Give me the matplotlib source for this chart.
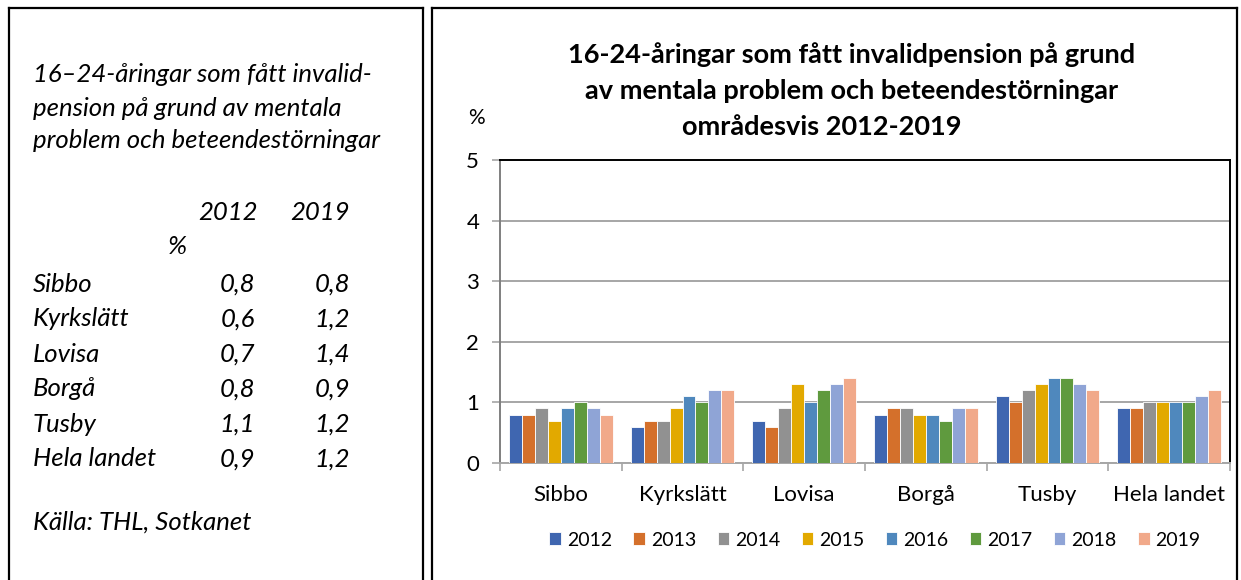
import matplotlib
matplotlib.use("Agg")
import matplotlib.pyplot as plt
from matplotlib.lines import Line2D
import numpy as np

categories = ["Sibbo", "Kyrkslätt", "Lovisa", "Borgå", "Tusby", "Hela landet"]
years = ["2012", "2013", "2014", "2015", "2016", "2017", "2018", "2019"]
v2012 = [0.8, 0.6, 0.7, 0.8, 1.1, 0.9]
v2013 = [0.8, 0.7, 0.6, 0.9, 1.0, 0.9]
v2014 = [0.9, 0.7, 0.9, 0.9, 1.2, 1.0]
v2015 = [0.7, 0.9, 1.3, 0.8, 1.3, 1.0]
v2016 = [0.9, 1.1, 1.0, 0.8, 1.4, 1.0]
v2017 = [1.0, 1.0, 1.2, 0.7, 1.4, 1.0]
v2018 = [0.9, 1.2, 1.3, 0.9, 1.3, 1.1]
v2019 = [0.8, 1.2, 1.4, 0.9, 1.2, 1.2]
series = [v2012, v2013, v2014, v2015, v2016, v2017, v2018, v2019]
colors = ["#3F66B0", "#D4702B", "#919191", "#E2A900", "#4F88BD", "#5F9A3E", "#8FA4D6", "#F1A98A"]

table_rows = ["Sibbo", "Kyrkslätt", "Lovisa", "Borgå", "Tusby", "Hela landet"]
table_2012 = ["0,8", "0,6", "0,7", "0,8", "1,1", "0,9"]
table_2019 = ["0,8", "1,2", "1,4", "0,9", "1,2", "1,2"]

W, H = 1241, 580
fig = plt.figure(figsize=(W / 100, H / 100), dpi=100)
fig.patch.set_facecolor("white")
FONT = "Lato"

def fx(px):
    return px / W

def fy(py):
    return 1 - py / H

# frames
lw = 1.6
for xs, ys in [((9, 9), (8, 580)), ((9, 423), (8, 8)), ((423, 423), (8, 580)),
               ((432, 432), (8, 580)), ((432, 1237), (8, 8)), ((1237, 1237), (8, 580))]:
    fig.add_artist(Line2D([fx(xs[0]), fx(xs[1])], [fy(ys[0]), fy(ys[1])],
                          transform=fig.transFigure, color="black", lw=lw))

# left text panel
tfs = 18.5
for i, line in enumerate(["16–24-åringar som fått invalid-", "pension på grund av mentala",
                          "problem och beteendestörningar"]):
    fig.text(fx(33), fy(75 + i * 33), line, fontsize=tfs, style="italic",
             family=FONT, va="center", ha="left")
fig.text(fx(258), fy(213), "2012", fontsize=tfs, style="italic", family=FONT, va="center", ha="right")
fig.text(fx(350), fy(213), "2019", fontsize=tfs, style="italic", family=FONT, va="center", ha="right")
fig.text(fx(187), fy(247), "%", fontsize=tfs, style="italic", family=FONT, va="center", ha="right")
for i, (r, a, b) in enumerate(zip(table_rows, table_2012, table_2019)):
    y = fy(284 + i * 35)
    fig.text(fx(33), y, r, fontsize=tfs, style="italic", family=FONT, va="center", ha="left")
    fig.text(fx(255), y, a, fontsize=tfs, style="italic", family=FONT, va="center", ha="right")
    fig.text(fx(350), y, b, fontsize=tfs, style="italic", family=FONT, va="center", ha="right")
fig.text(fx(33), fy(522), "Källa: THL, Sotkanet", fontsize=tfs, style="italic",
         family=FONT, va="center", ha="left")

# chart
ax = fig.add_axes([fx(500), 1 - 463 / H, (1230 - 500) / W, (463 - 160) / H])
n = len(series)
group = 0.85
bw = group / n
x = np.arange(len(categories))
for i, (vals, c, yr) in enumerate(zip(series, colors, years)):
    ax.bar(x - group / 2 + bw * (i + 0.5), vals, width=bw, color=c, label=yr,
           edgecolor="white", linewidth=0.6, zorder=3)

ax.set_xlim(-0.5, len(categories) - 0.5)
ax.set_ylim(0, 5)
ax.set_yticks(range(0, 6))
ax.yaxis.grid(True, color="#A6A6A6", lw=1.4, zorder=0)
ax.set_xticks(x)
ax.set_xticklabels(categories, fontsize=16, family=FONT)
ax.set_xticks(np.arange(-0.5, len(categories)), minor=True)
ax.tick_params(axis="x", which="major", length=0, pad=16)
ax.tick_params(axis="x", which="minor", length=6, color="#A6A6A6", width=1.2)
ax.tick_params(axis="y", length=6, color="#A6A6A6", width=1.2, labelsize=16, pad=9)
for lab in ax.get_yticklabels():
    lab.set_family(FONT)
ax.spines["left"].set_color("#7F7F7F")
ax.spines["left"].set_linewidth(1.4)
ax.spines["bottom"].set_color("#A6A6A6")
ax.spines["bottom"].set_linewidth(1.4)
ax.spines["top"].set_color("black")
ax.spines["top"].set_linewidth(1.4)
ax.spines["right"].set_color("black")
ax.spines["right"].set_linewidth(1.4)

fig.text(fx(476), fy(118), "%", fontsize=15, family=FONT, va="center", ha="center")
title_lines = ["16-24-åringar som fått invalidpension på grund",
               "av mentala problem och beteendestörningar",
               "områdesvis 2012-2019"]
title_x = [852, 852, 822]
title_y = [55, 91, 127]
for t, tx, ty in zip(title_lines, title_x, title_y):
    fig.text(fx(tx), fy(ty), t, fontsize=19.5, fontweight="bold", family=FONT,
             va="center", ha="center")

leg = fig.legend(loc="center", bbox_to_anchor=(fx(875), fy(540)), ncol=8, frameon=False,
                 prop={"family": FONT, "size": 14}, handlelength=0.6, handleheight=0.6,
                 handletextpad=0.3, columnspacing=1.1)

fig.savefig("out.png", dpi=100, facecolor="white")
